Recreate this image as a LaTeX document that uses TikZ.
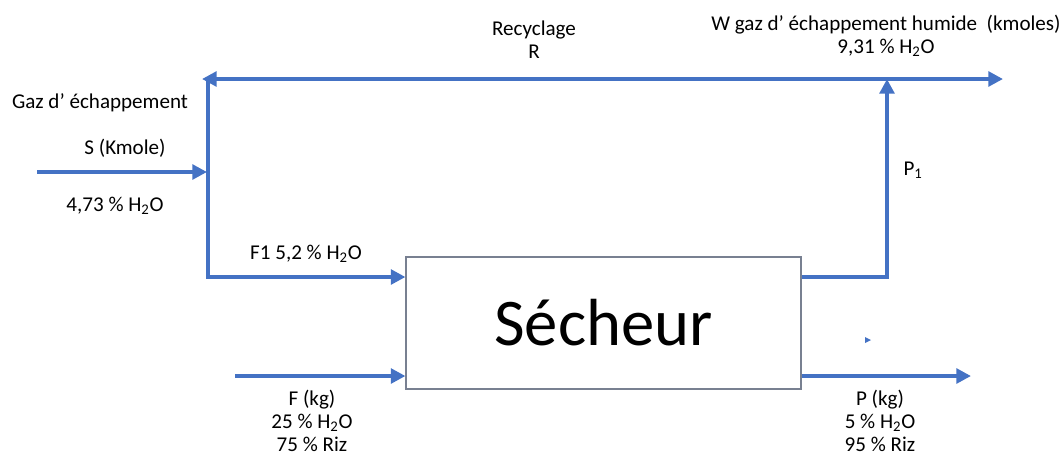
\documentclass[tikz,border=0pt]{standalone}
\usepackage{fontspec}
\setmainfont{Carlito}
\usetikzlibrary{arrows.meta}

\definecolor{stromblau}{RGB}{68,114,196}
\definecolor{kastengrau}{RGB}{120,128,145}

\tikzset{
    strom/.style={line width=3pt, stromblau},
    pfeil/.style={strom, -{Triangle[length=11pt, width=11pt]}},
    text15/.style={font=\fontsize{15.8}{17.25}\selectfont, align=center, inner sep=0pt}
}

\newcommand{\wasser}{H\textsubscript{2}O}

\begin{document}
\begin{tikzpicture}[x=0.75pt, y=-0.75pt]
        \useasboundingbox (0,0) rectangle (1063,455);

        % zeichne Trockner
        \node[draw=kastengrau, line width=0.8pt, minimum width=296.25pt, minimum height=99pt,
              font=\fontsize{50}{60}\selectfont] (secheur) at (603.5,323) {Sécheur};

        % zeichne Knotenpunkte
        \coordinate (sStart) at (37,172);
        \coordinate (sEnde) at (207,172);
        \coordinate (rEnde) at (202,79);
        \coordinate (rEcke) at (208,79);
        \coordinate (fEinsEcke) at (208,277);
        \coordinate (wKnoten) at (887,79);
        \coordinate (wEnde) at (1003,79);
        \coordinate (fStart) at (235,376);
        \coordinate (pEnde) at (971,376);

        % zeichne Stroeme
        \draw[strom, {Triangle[length=11pt, width=11pt]}-{Triangle[length=11pt, width=11pt]}] (rEnde) -- (wEnde);
        \draw[pfeil] (rEcke) -- (fEinsEcke) -- (fEinsEcke -| secheur.west);
        \draw[pfeil] (sStart) -- (sEnde);
        \draw[pfeil] (secheur.east |- fEinsEcke) -| (wKnoten);
        \draw[pfeil] (fStart) -- (fStart -| secheur.west);
        \draw[pfeil] (secheur.east |- pEnde) -- (pEnde);
        \fill[stromblau] (865,337) -- (871,340) -- (865,343) -- cycle;

        % zeichne Labels
        \node[text15] (recyclage) at (534,40) {Recyclage\\R};
        \node[text15] (wAbgas) at (886,36) {W gaz d’ échappement humide\ \ (kmoles)\\9,31 \% \wasser};
        \node[text15] (gazEch) at (100,103) {Gaz d’ échappement};
        \node[text15] (sKmole) at (125,148) {S (Kmole)};
        \node[text15] (sAnteil) at (115,206) {4,73 \% \wasser};
        \node[text15] (fEinsAnteil) at (306,254) {F1 5,2 \% \wasser};
        \node[text15] (pEins) at (913,170) {P\textsubscript{1}};
        \node[text15] (fZulauf) at (312,421) {F (kg)\\25 \% \wasser\\75 \% Riz};
        \node[text15] (pProdukt) at (880,421) {P (kg)\\5 \% \wasser\\95 \% Riz};
    \end{tikzpicture}
\end{document}
